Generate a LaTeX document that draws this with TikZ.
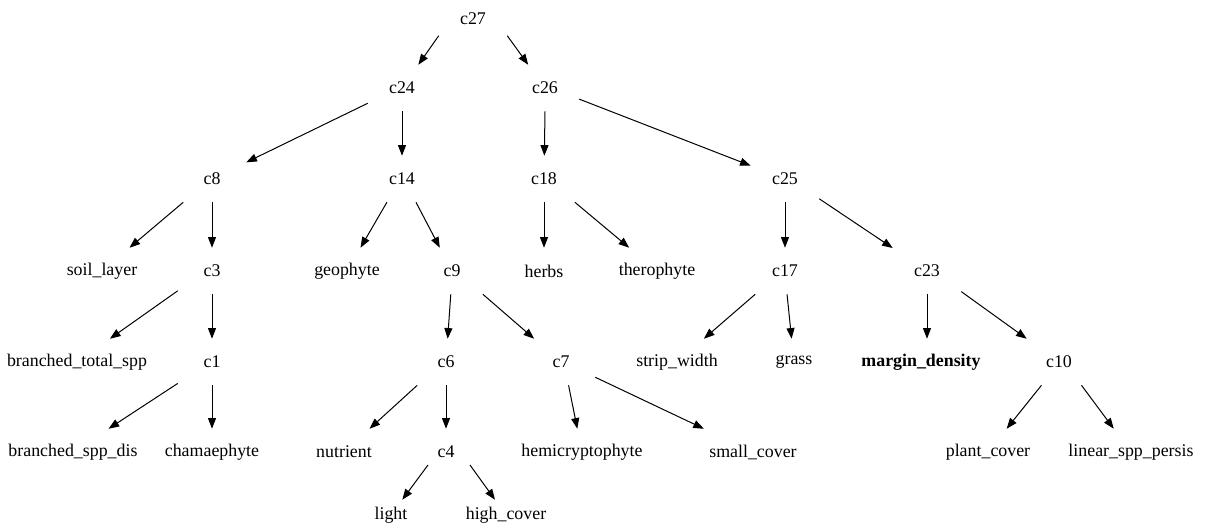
\documentclass[tikz,border=0pt]{standalone}
\usepackage{fontspec}
\setmainfont{Liberation Serif}
\usetikzlibrary{arrows.meta}
\begin{document}
\begin{tikzpicture}[x=0.75pt,y=-0.75pt,
  lbl/.style={rectangle, minimum width=51pt, minimum height=34.5pt, inner xsep=8pt, inner ysep=0pt, font=\fontsize{13.4}{16}\selectfont},
  leaf/.style={lbl, minimum height=22.5pt},
  arr/.style={-{Triangle[length=8pt,width=6pt]}, line width=0.75pt}]
\useasboundingbox (0,0) rectangle (1207,526);
% rank 0
\node[lbl] (c27) at (473,19) {c27};
% rank 1
\node[lbl] (c24) at (402,88) {c24};
\node[lbl] (c26) at (545,88) {c26};
% rank 2
\node[lbl] (c8)  at (212,179) {c8};
\node[lbl] (c14) at (402,179) {c14};
\node[lbl] (c18) at (544,179) {c18};
\node[lbl] (c25) at (785,179) {c25};
% rank 3
\node[lbl] (soil)  at (102,271) {soil\_layer};
\node[lbl] (c3)    at (212,271) {c3};
\node[lbl] (geo)   at (347,271) {geophyte};
\node[lbl] (c9)    at (452,271) {c9};
\node[lbl] (herbs) at (544,271) {herbs};
\node[lbl] (thero) at (657,271) {therophyte};
\node[lbl] (c17)   at (785,271) {c17};
\node[lbl] (c23)   at (927,271) {c23};
% rank 4
\node[lbl] (bts)   at (77,362)  {branched\_total\_spp};
\node[lbl] (c1)    at (212,362) {c1};
\node[lbl] (c6)    at (446,362) {c6};
\node[lbl] (c7)    at (561,362) {c7};
\node[lbl] (strip) at (677,362) {strip\_width};
\node[lbl] (grass) at (794,362) {grass};
\node[lbl] (md)    at (921,362) {\bfseries margin\_density};
\node[lbl] (c10)   at (1059,362) {c10};
% rank 5
\node[lbl] (bsd)    at (73,452)   {branched\_spp\_dis};
\node[lbl] (cham)   at (212,452)  {chamaephyte};
\node[lbl] (nutr)   at (344,452)  {nutrient};
\node[lbl] (c4)     at (446,452)  {c4};
\node[lbl] (hemi)   at (582,452)  {hemicryptophyte};
\node[lbl] (small)  at (753,452)  {small\_cover};
\node[lbl] (plant)  at (988,452)  {plant\_cover};
\node[lbl] (linear) at (1131,452) {linear\_spp\_persis};
% rank 6
\node[leaf] (light) at (391,515) {light};
\node[leaf] (high)  at (506,515) {high\_cover};
% edges
\draw[arr] (c27.206) -- (c24);
\draw[arr] (c27.334) -- (c26);
\draw[arr] (c24.204) -- (c8);
\draw[arr] (c24.south) -- (c14);
\draw[arr] (c26.south) -- (c18);
\draw[arr] (c26.342) -- (c25);
\draw[arr] (c8.219) -- (soil);
\draw[arr] (c8.south) -- (c3);
\draw[arr] (c14.237) -- (geo);
\draw[arr] (c14.301) -- (c9);
\draw[arr] (c18.south) -- (herbs);
\draw[arr] (c18.323) -- (thero);
\draw[arr] (c25.south) -- (c17);
\draw[arr] (c25.330) -- (c23);
\draw[arr] (c3.210) -- (bts);
\draw[arr] (c3.south) -- (c1);
\draw[arr] (c9.267) -- (c6);
\draw[arr] (c9.323) -- (c7);
\draw[arr] (c17.218) -- (strip);
\draw[arr] (c17.275) -- (grass);
\draw[arr] (c23.south) -- (c23.south |- md.north);
\draw[arr] (c23.329) -- (c10);
\draw[arr] (c1.212) -- (bsd);
\draw[arr] (c1.south) -- (cham);
\draw[arr] (c6.219) -- (nutr);
\draw[arr] (c6.south) -- (c4);
\draw[arr] (c7.288) -- (hemi);
\draw[arr] (c7.336) -- (small);
\draw[arr] (c10.233) -- (plant);
\draw[arr] (c10.314) -- (linear);
\draw[arr] ([shift={(-18,13)}]c4.center) -- (light);
\draw[arr] ([shift={(24,13)}]c4.center) -- (high);
\end{tikzpicture}
\end{document}
